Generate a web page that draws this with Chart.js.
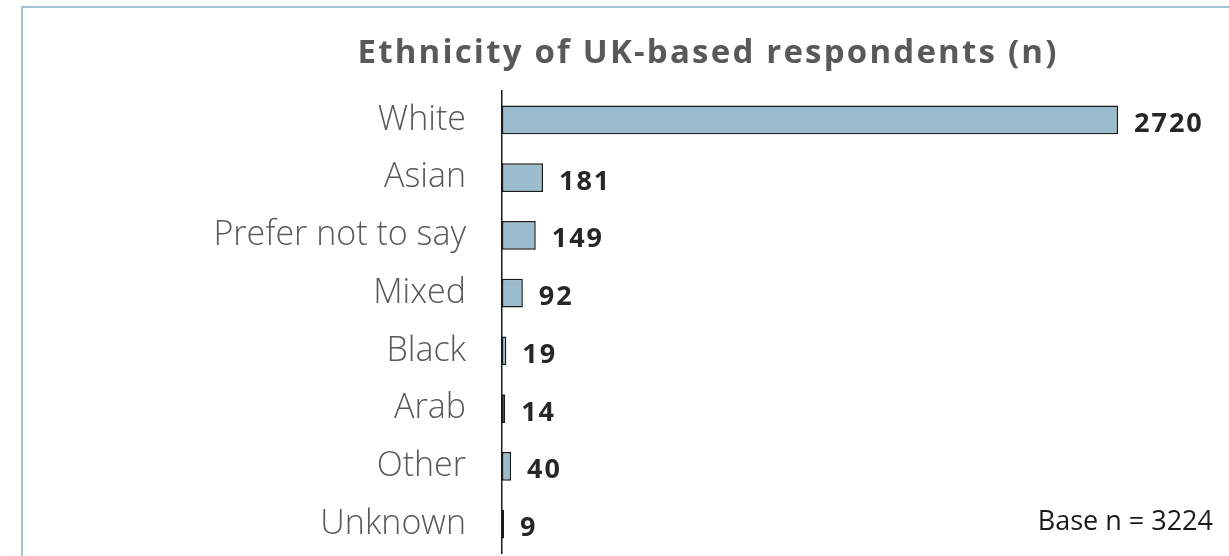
<!DOCTYPE html>
<html>
<head>
<meta charset="utf-8">
<script src="https://cdn.jsdelivr.net/npm/chart.js@4/dist/chart.umd.min.js"></script>
<style>
html,body{margin:0;padding:0;background:#fff;overflow:hidden;}
#wrap{position:absolute;left:0;top:0;width:1229px;height:556px;}
#frame{position:absolute;left:21px;top:6px;width:1300px;height:700px;border:2px solid #9dc3d3;box-sizing:border-box;}
canvas{position:absolute;left:0;top:0;}
</style>
</head>
<body>
<div id="wrap">
<div id="frame"></div>
<canvas id="c" width="1229" height="556"></canvas>
</div>
<script>
const TITLE = 'Ethnicity of UK-based respondents (n)';
const NOTE = 'Base n = 3224';
const categories = ['White','Asian','Prefer not to say','Mixed','Black','Arab','Other','Unknown'];
const counts = [2720,181,149,92,19,14,40,9];
const xMax = 3000;

const FONT = "'Open Sans', 'Noto Sans', sans-serif";

const labelPlugin = {
  id: 'labels',
  afterDatasetsDraw(chart) {
    const ctx = chart.ctx;
    const meta = chart.getDatasetMeta(0);
    ctx.save();
    ctx.font = "bold 27px " + FONT;
    ctx.letterSpacing = '2px';
    ctx.fillStyle = '#262626';
    ctx.textAlign = 'left';
    ctx.textBaseline = 'alphabetic';
    meta.data.forEach((bar, i) => {
      ctx.fillText(String(counts[i]), bar.x + 16, bar.y + 12);
    });
    // title
    ctx.font = "bold 33px " + FONT;
    ctx.letterSpacing = '2.2px';
    ctx.fillStyle = '#595959';
    ctx.textAlign = 'center';
    ctx.fillText(TITLE, 708, 63);
    // note
    ctx.font = "27px " + FONT;
    ctx.letterSpacing = '0px';
    ctx.fillStyle = '#1a1a1a';
    ctx.textAlign = 'right';
    ctx.fillText(NOTE, 1213, 530);
    ctx.restore();
  }
};

new Chart(document.getElementById('c'), {
  type: 'bar',
  data: {
    labels: categories,
    datasets: [{
      data: counts,
      backgroundColor: '#9bbccc',
      borderColor: '#1a1a1a',
      borderWidth: 1.5,
      borderSkipped: false,
      barPercentage: 0.5,
      categoryPercentage: 1.0
    }]
  },
  options: {
    indexAxis: 'y',
    responsive: false,
    animation: false,
    layout: { padding: { top: 91, bottom: 3, left: 0, right: 1229 - 502 - 3000 * (616 / 2720) } },
    plugins: { legend: { display: false }, title: { display: false }, tooltip: { enabled: false } },
    scales: {
      x: { display: false, min: 0, max: xMax },
      y: {
        afterFit(scale) { scale.width = 502; scale.paddingTop = 0; scale.paddingBottom = 0; },
        grid: { display: false, drawTicks: false },
        border: { display: true, color: '#1a1a1a', width: 1.5 },
        ticks: { color: '#595959', font: { family: FONT, size: 34, weight: 300 }, padding: 36 }
      }
    }
  },
  plugins: [labelPlugin]
});
</script>
</body>
</html>
